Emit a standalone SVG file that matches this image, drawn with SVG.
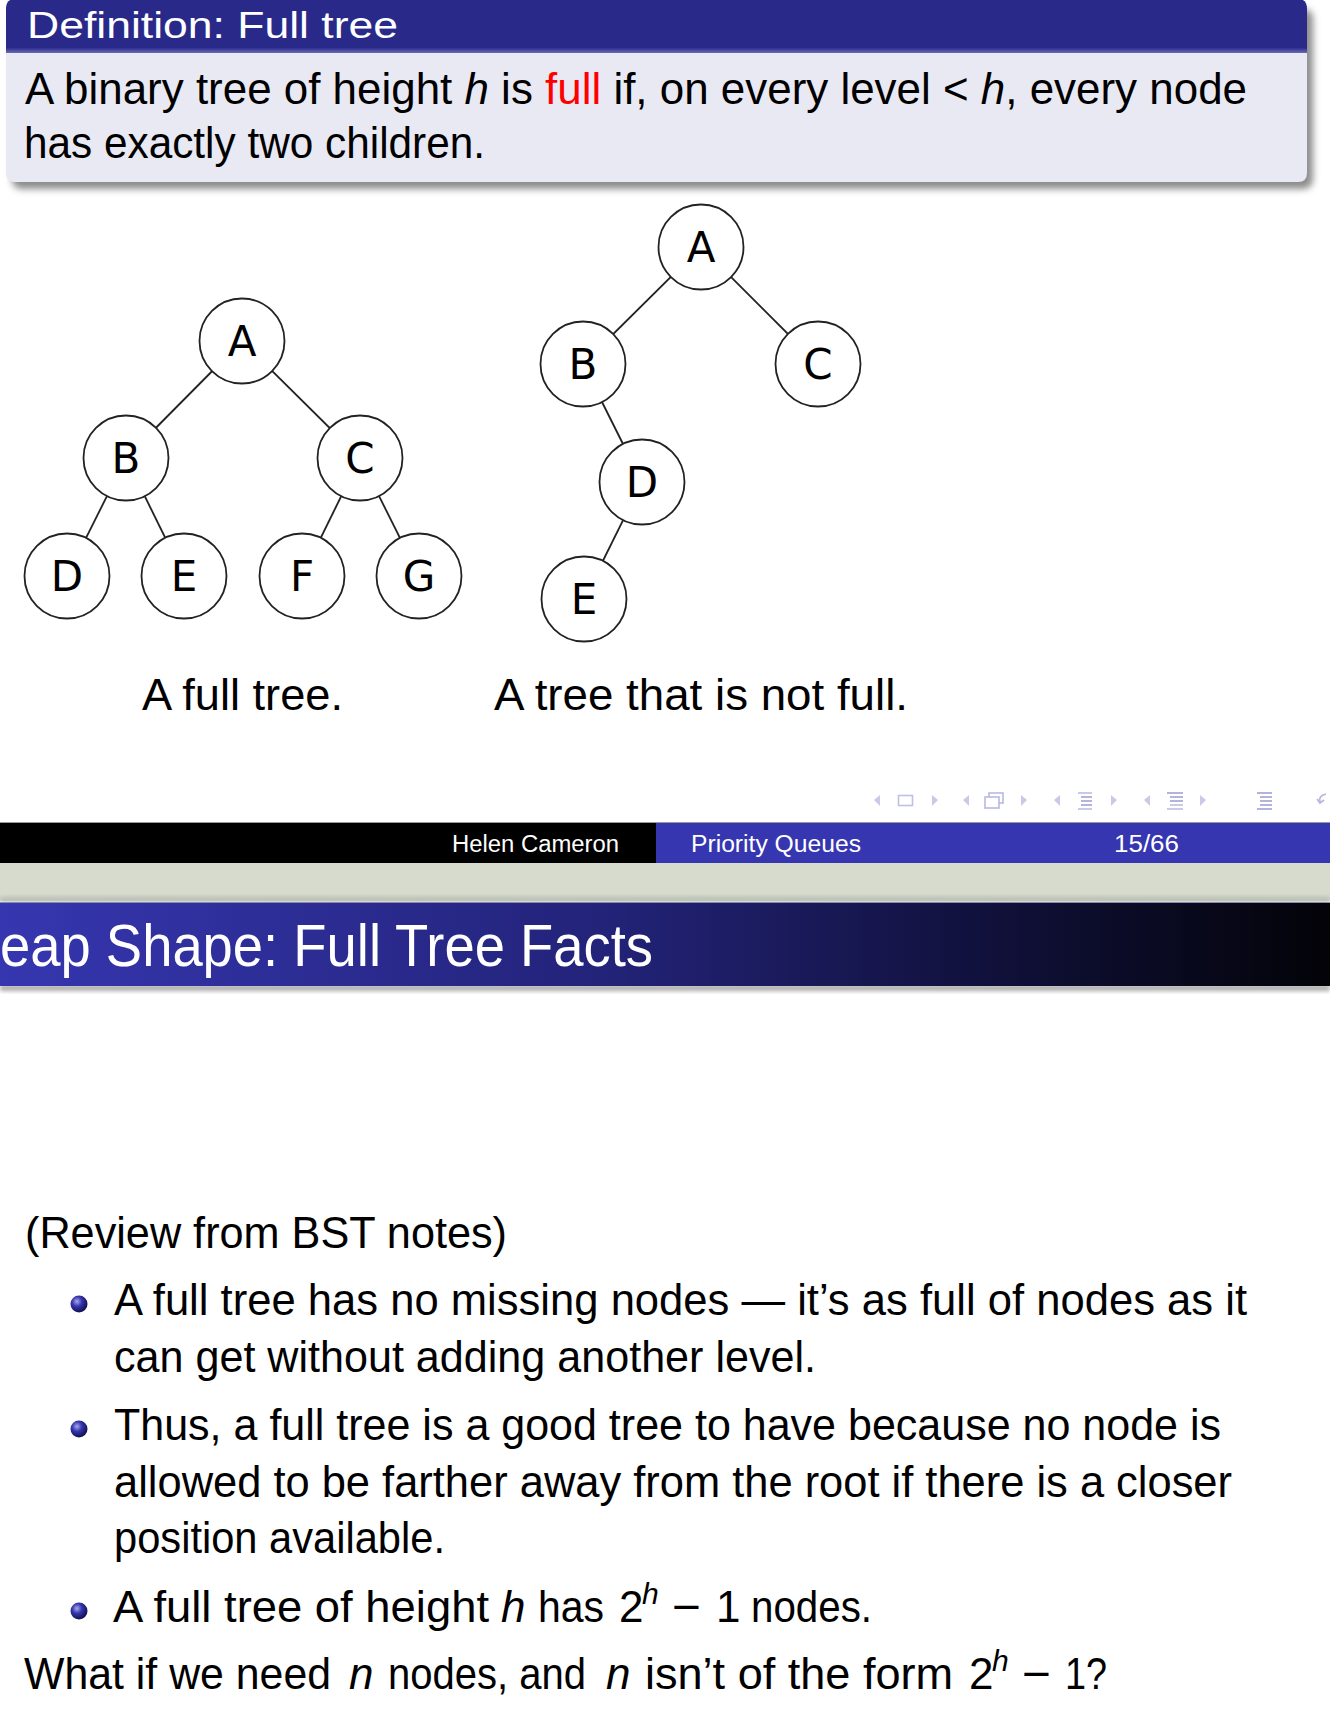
<svg xmlns="http://www.w3.org/2000/svg" width="1330" height="1714" viewBox="0 0 1330 1714">
<defs>
<style>
.t{font-family:"Liberation Sans",Arial,sans-serif;fill:#000;}
.w{fill:#fff;}
.it{font-style:italic;}
.nl{font-family:"DejaVu Sans",Verdana,sans-serif;font-size:42px;text-anchor:middle;fill:#000;}
.node circle{fill:#fff;stroke:#222;stroke-width:1.8;}
.edges line{stroke:#222;stroke-width:1.8;}
.nav{fill:#C9C9E8;}
.navd{fill:#B3B3DC;}
</style>
<filter id="blur" x="-5%" y="-20%" width="110%" height="140%"><feGaussianBlur stdDeviation="3.5"/></filter>
<filter id="blur2" x="-5%" y="-50%" width="110%" height="200%"><feGaussianBlur stdDeviation="2"/></filter>
<linearGradient id="tb" x1="0" y1="0" x2="0" y2="1">
<stop offset="0" stop-color="#29298A"/><stop offset="0.9" stop-color="#29298A"/><stop offset="1" stop-color="#6A6AB8"/>
</linearGradient>
<linearGradient id="fr" x1="0" y1="0" x2="1" y2="0">
<stop offset="0" stop-color="#3636B0"/><stop offset="0.45" stop-color="#23237A"/><stop offset="0.75" stop-color="#10103A"/><stop offset="1" stop-color="#030308"/>
</linearGradient>
<radialGradient id="ball" cx="0.38" cy="0.35" r="0.65">
<stop offset="0" stop-color="#A8A8E8"/><stop offset="0.45" stop-color="#3535B0"/><stop offset="1" stop-color="#121250"/>
</radialGradient>
</defs>
<rect x="0" y="0" width="1330" height="1714" fill="#fff"/>

<!-- Definition block -->
<g id="definition-block">
<rect x="12" y="9" width="1301" height="180" rx="9" fill="#666" opacity="0.75" filter="url(#blur)"/>
<path d="M6,9 Q6,0 15,0 L1298,0 Q1307,0 1307,9 L1307,173 Q1307,182 1298,182 L15,182 Q6,182 6,173 Z" fill="#E9E9F3"/>
<path d="M6,9 Q6,-1 15,-1 L1298,-1 Q1307,-1 1307,9 L1307,53 L6,53 Z" fill="url(#tb)"/>
<text class="t w" x="27" y="38" font-size="37" textLength="371" lengthAdjust="spacingAndGlyphs">Definition: Full tree</text>
<text class="t" x="25" y="104" font-size="44" textLength="1222" lengthAdjust="spacingAndGlyphs">A binary tree of height <tspan class="it">h</tspan> is <tspan fill="#FF0000">full</tspan> if, on every level &lt; <tspan class="it">h</tspan>, every node</text>
<text class="t" x="24" y="158" font-size="44" textLength="461" lengthAdjust="spacingAndGlyphs">has exactly two children.</text>
</g>

<!-- Left tree -->
<g id="full-tree">
<g class="edges">
<line x1="242" y1="341" x2="126" y2="458"/>
<line x1="242" y1="341" x2="360" y2="458"/>
<line x1="126" y1="458" x2="67" y2="576"/>
<line x1="126" y1="458" x2="184" y2="576"/>
<line x1="360" y1="458" x2="302" y2="576"/>
<line x1="360" y1="458" x2="419" y2="576"/>
</g>
<g id="L-A" class="node"><circle cx="242" cy="341" r="42.5"/><text class="nl" x="242" y="356">A</text></g>
<g id="L-B" class="node"><circle cx="126" cy="458" r="42.5"/><text class="nl" x="126" y="473">B</text></g>
<g id="L-C" class="node"><circle cx="360" cy="458" r="42.5"/><text class="nl" x="360" y="473">C</text></g>
<g id="L-D" class="node"><circle cx="67" cy="576" r="42.5"/><text class="nl" x="67" y="591">D</text></g>
<g id="L-E" class="node"><circle cx="184" cy="576" r="42.5"/><text class="nl" x="184" y="591">E</text></g>
<g id="L-F" class="node"><circle cx="302" cy="576" r="42.5"/><text class="nl" x="302" y="591">F</text></g>
<g id="L-G" class="node"><circle cx="419" cy="576" r="42.5"/><text class="nl" x="419" y="591">G</text></g>
</g>

<!-- Right tree -->
<g id="not-full-tree">
<g class="edges">
<line x1="701" y1="247" x2="583" y2="364"/>
<line x1="701" y1="247" x2="818" y2="364"/>
<line x1="583" y1="364" x2="642" y2="482"/>
<line x1="642" y1="482" x2="584" y2="599"/>
</g>
<g id="R-A" class="node"><circle cx="701" cy="247" r="42.5"/><text class="nl" x="701" y="262">A</text></g>
<g id="R-B" class="node"><circle cx="583" cy="364" r="42.5"/><text class="nl" x="583" y="379">B</text></g>
<g id="R-C" class="node"><circle cx="818" cy="364" r="42.5"/><text class="nl" x="818" y="379">C</text></g>
<g id="R-D" class="node"><circle cx="642" cy="482" r="42.5"/><text class="nl" x="642" y="497">D</text></g>
<g id="R-E" class="node"><circle cx="584" cy="599" r="42.5"/><text class="nl" x="584" y="614">E</text></g>
</g>

<text class="t" x="142" y="710" font-size="44" textLength="201" lengthAdjust="spacingAndGlyphs">A full tree.</text>
<text class="t" x="494" y="710" font-size="44" textLength="414" lengthAdjust="spacingAndGlyphs">A tree that is not full.</text>

<!-- Navigation symbols -->
<g id="nav">
<polygon class="nav" points="874,800 880,795 880,806"/>
<rect x="898.5" y="795.5" width="14" height="10" fill="none" stroke="#C0C0E4" stroke-width="1.6"/>
<polygon class="nav" points="932,795 938,800 932,806"/>
<polygon class="nav" points="963,800 969,795 969,806"/>
<rect x="989" y="793" width="14" height="10" fill="#fff" stroke="#B8B8E0" stroke-width="1.6"/>
<rect x="985" y="797" width="14" height="11" fill="#fff" stroke="#B8B8E0" stroke-width="1.6"/>
<polygon class="nav" points="1021,795 1027,800 1021,806"/>
<polygon class="nav" points="1054,800 1060,795 1060,806"/>
<rect class="nav" x="1078" y="792" width="14" height="2"/>
<rect class="navd" x="1081" y="796" width="11" height="2"/>
<rect class="navd" x="1081" y="800" width="11" height="2"/>
<rect class="navd" x="1081" y="804" width="11" height="2"/>
<rect class="nav" x="1078" y="808" width="14" height="2"/>
<polygon class="nav" points="1111,795 1117,800 1111,806"/>
<polygon class="nav" points="1144,800 1150,795 1150,806"/>
<rect class="navd" x="1167" y="792" width="16" height="2"/>
<rect class="navd" x="1170" y="796" width="13" height="2"/>
<rect class="navd" x="1170" y="800" width="13" height="2"/>
<rect class="nav" x="1170" y="804" width="13" height="2"/>
<rect class="nav" x="1167" y="808" width="16" height="2"/>
<polygon class="nav" points="1200,795 1206,800 1200,806"/>
<rect class="navd" x="1257" y="792" width="15" height="2"/>
<rect class="navd" x="1260" y="796" width="12" height="2"/>
<rect class="navd" x="1260" y="800" width="12" height="2"/>
<rect class="navd" x="1260" y="804" width="12" height="2"/>
<rect class="navd" x="1257" y="808" width="15" height="2"/>
<path d="M1326,794 Q1318,796 1320,802 M1317,799 L1320,803 L1324,800" fill="none" stroke="#B8B8E0" stroke-width="1.8"/>
</g>

<!-- Footer -->
<g id="footer">
<rect x="0" y="822" width="1330" height="1.5" fill="#9A9A9A"/>
<rect x="0" y="823" width="656" height="40" fill="#000"/>
<rect x="656" y="823" width="674" height="40" fill="#3636B1"/>
<text class="t w" x="452" y="852" font-size="23" textLength="167" lengthAdjust="spacingAndGlyphs">Helen Cameron</text>
<text class="t w" x="691" y="852" font-size="23" textLength="170" lengthAdjust="spacingAndGlyphs">Priority Queues</text>
<text class="t w" x="1114" y="852" font-size="23" textLength="65" lengthAdjust="spacingAndGlyphs">15/66</text>
<rect x="0" y="863" width="1330" height="38" fill="#D6DBCE"/>
<rect x="0" y="897" width="1330" height="5" fill="#B8BCB2" filter="url(#blur2)"/>
</g>

<!-- Second frame title -->
<g id="frame-title">
<rect x="0" y="985" width="1330" height="6" fill="#AAA" filter="url(#blur2)"/>
<rect x="0" y="902" width="1330" height="1.5" fill="#8A8AB0"/>
<rect x="0" y="903" width="1330" height="83" fill="url(#fr)"/>
<text class="t w" x="0" y="966" font-size="60" textLength="653" lengthAdjust="spacingAndGlyphs">eap Shape: Full Tree Facts</text>
</g>

<!-- Lower body -->
<g id="facts">
<text class="t" x="25" y="1248" font-size="44" textLength="482" lengthAdjust="spacingAndGlyphs">(Review from BST notes)</text>
<circle cx="79" cy="1304" r="8.5" fill="url(#ball)"/>
<text class="t" x="114" y="1315" font-size="44" textLength="1133" lengthAdjust="spacingAndGlyphs">A full tree has no missing nodes — it’s as full of nodes as it</text>
<text class="t" x="114" y="1372" font-size="44" textLength="702" lengthAdjust="spacingAndGlyphs">can get without adding another level.</text>
<circle cx="79" cy="1429" r="8.5" fill="url(#ball)"/>
<text class="t" x="114" y="1440" font-size="44" textLength="1107" lengthAdjust="spacingAndGlyphs">Thus, a full tree is a good tree to have because no node is</text>
<text class="t" x="114" y="1497" font-size="44" textLength="1118" lengthAdjust="spacingAndGlyphs">allowed to be farther away from the root if there is a closer</text>
<text class="t" x="114" y="1553" font-size="44" textLength="331" lengthAdjust="spacingAndGlyphs">position available.</text>
<circle cx="79" cy="1611" r="8.5" fill="url(#ball)"/>
<text class="t" x="113" y="1622" font-size="44" textLength="376" lengthAdjust="spacingAndGlyphs">A full tree of height</text>
<text class="t it" x="501" y="1622" font-size="44">h</text>
<text class="t" x="538" y="1622" font-size="44" textLength="66" lengthAdjust="spacingAndGlyphs">has</text>
<text class="t" x="619" y="1622" font-size="44">2</text>
<text class="t it" x="642" y="1604" font-size="30">h</text>
<text class="t" x="672" y="1622" font-size="44" textLength="29" lengthAdjust="spacingAndGlyphs">−</text>
<text class="t" x="716" y="1622" font-size="44">1</text>
<text class="t" x="751" y="1622" font-size="44" textLength="121" lengthAdjust="spacingAndGlyphs">nodes.</text>
<text class="t" x="24" y="1689" font-size="44" textLength="307" lengthAdjust="spacingAndGlyphs">What if we need</text>
<text class="t it" x="349" y="1689" font-size="44">n</text>
<text class="t" x="388" y="1689" font-size="44" textLength="198" lengthAdjust="spacingAndGlyphs">nodes, and</text>
<text class="t it" x="606" y="1689" font-size="44">n</text>
<text class="t" x="645" y="1689" font-size="44" textLength="308" lengthAdjust="spacingAndGlyphs">isn’t of the form</text>
<text class="t" x="969" y="1689" font-size="44">2</text>
<text class="t it" x="992" y="1671" font-size="30">h</text>
<text class="t" x="1022" y="1689" font-size="44" textLength="29" lengthAdjust="spacingAndGlyphs">−</text>
<text class="t" x="1065" y="1689" font-size="44" textLength="42" lengthAdjust="spacingAndGlyphs">1?</text>
</g>
</svg>
